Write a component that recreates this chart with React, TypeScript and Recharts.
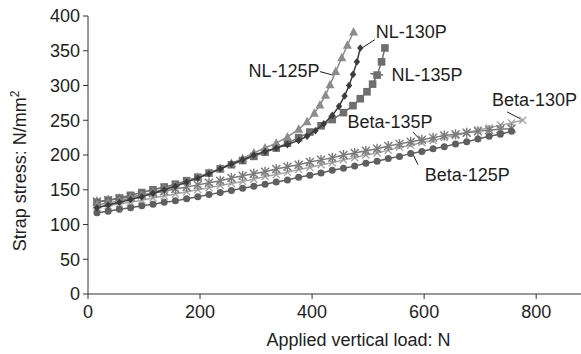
import {
  ReferenceDot,
  ReferenceLine,
  Scatter,
  ScatterChart,
  XAxis,
  YAxis,
  Label,
} from 'recharts';

const FONT = '"Liberation Sans", Arial, sans-serif';
const INK = '#1e1e1e';

// Applied vertical load (N) and strap stress (N/mm2)
const nl125Load = [16, 36, 56, 76, 96, 116, 136, 156, 176, 196, 216, 236, 256, 276, 296, 316, 336, 356, 376, 391, 404, 414, 424, 432, 442, 453, 463, 474];
const nl125Stress = [128, 131, 134, 138, 142, 146, 151, 156, 162, 168, 174, 181, 188, 195, 203, 210, 217, 226, 237, 248, 260, 272, 286, 301, 320, 340, 358, 377];

const nl130Load = [16, 36, 56, 76, 96, 116, 136, 156, 176, 196, 216, 236, 256, 276, 296, 316, 336, 356, 376, 391, 406, 421, 436, 448, 458, 466, 473, 480, 486];
const nl130Stress = [124, 128, 132, 136, 140, 145, 150, 155, 161, 167, 173, 180, 187, 193, 200, 205, 210, 215, 221, 227, 235, 245, 257, 270, 285, 300, 316, 334, 354];

const nl135Load = [16, 36, 56, 76, 96, 116, 136, 156, 176, 196, 216, 236, 256, 276, 296, 316, 336, 356, 376, 396, 416, 436, 456, 473, 486, 498, 508, 516, 524, 530];
const nl135Stress = [132, 135, 138, 142, 146, 150, 154, 158, 163, 168, 174, 180, 186, 192, 198, 204, 210, 217, 225, 233, 242, 251, 261, 271, 281, 291, 302, 315, 334, 354];

const beta125Load = [16, 36, 56, 76, 96, 116, 136, 156, 176, 196, 216, 236, 256, 276, 296, 316, 336, 356, 376, 396, 416, 436, 456, 476, 496, 516, 536, 556, 576, 596, 616, 636, 656, 676, 696, 716, 736, 756];
const beta125Stress = [117, 119, 122, 124, 127, 129, 132, 134, 137, 140, 143, 146, 149, 152, 155, 158, 161, 164, 168, 171, 174, 178, 181, 184, 188, 191, 195, 198, 202, 205, 209, 212, 216, 219, 223, 227, 230, 234];

const beta130Load = [16, 36, 56, 76, 96, 116, 136, 156, 176, 196, 216, 236, 256, 276, 296, 316, 336, 356, 376, 396, 416, 436, 456, 476, 496, 516, 536, 556, 576, 596, 616, 636, 656, 676, 696, 716, 736, 756, 776];
const beta130Stress = [125, 127, 130, 132, 135, 138, 141, 144, 147, 150, 153, 156, 159, 162, 165, 169, 172, 175, 179, 182, 186, 189, 193, 196, 200, 203, 207, 211, 214, 218, 221, 225, 228, 232, 236, 239, 243, 246, 250];

const beta135Load = [16, 36, 56, 76, 96, 116, 136, 156, 176, 196, 216, 236, 256, 276, 296, 316, 336, 356, 376, 396, 416, 436, 456, 476, 496, 516, 536, 556, 576, 596, 616, 636, 656, 676, 696, 716, 736, 756];
const beta135Stress = [133, 135, 137, 140, 142, 145, 148, 151, 154, 157, 160, 163, 167, 170, 173, 176, 180, 183, 186, 190, 193, 196, 200, 203, 206, 209, 213, 216, 219, 222, 225, 228, 230, 232, 234, 236, 237, 238];

const xTicks = [0, 200, 400, 600, 800];
const yTicks = [0, 50, 100, 150, 200, 250, 300, 350, 400];

const toPoints = (load: number[], stress: number[]) =>
  load.map((x, i) => ({ x, y: stress[i] }));

type ShapeProps = { cx?: number; cy?: number };

const triangle = (color: string) => ({ cx = 0, cy = 0 }: ShapeProps) => (
  <polygon points={`${cx},${cy - 5} ${cx + 4.5},${cy + 3.5} ${cx - 4.5},${cy + 3.5}`} fill={color} />
);
const diamond = (color: string) => ({ cx = 0, cy = 0 }: ShapeProps) => (
  <polygon points={`${cx},${cy - 3.8} ${cx + 3.2},${cy} ${cx},${cy + 3.8} ${cx - 3.2},${cy}`} fill={color} />
);
const square = (color: string) => ({ cx = 0, cy = 0 }: ShapeProps) => (
  <rect x={cx - 3.8} y={cy - 3.8} width={7.6} height={7.6} fill={color} />
);
const circle = (color: string) => ({ cx = 0, cy = 0 }: ShapeProps) => (
  <circle cx={cx} cy={cy} r={3.5} fill={color} />
);
const cross = (color: string) => ({ cx = 0, cy = 0 }: ShapeProps) => (
  <path d={`M${cx - 3.5},${cy - 3.5}L${cx + 3.5},${cy + 3.5}M${cx - 3.5},${cy + 3.5}L${cx + 3.5},${cy - 3.5}`} stroke={color} strokeWidth={1.4} />
);
const asterisk = (color: string) => ({ cx = 0, cy = 0 }: ShapeProps) => (
  <path
    d={`M${cx - 4},${cy - 4}L${cx + 4},${cy + 4}M${cx - 4},${cy + 4}L${cx + 4},${cy - 4}M${cx},${cy - 5}L${cx},${cy + 5}`}
    stroke={color}
    strokeWidth={1.4}
  />
);

const SERIES = [
  { name: 'Beta-130P', data: toPoints(beta130Load, beta130Stress), color: '#a6a6a6', shape: cross },
  { name: 'Beta-135P', data: toPoints(beta135Load, beta135Stress), color: '#7a7a7a', shape: asterisk },
  { name: 'Beta-125P', data: toPoints(beta125Load, beta125Stress), color: '#5f5f5f', shape: circle },
  { name: 'NL-135P', data: toPoints(nl135Load, nl135Stress), color: '#6e6e6e', shape: square },
  { name: 'NL-125P', data: toPoints(nl125Load, nl125Stress), color: '#8c8c8c', shape: triangle },
  { name: 'NL-130P', data: toPoints(nl130Load, nl130Stress), color: '#3c3c3c', shape: diamond },
];

// annotation text anchors and leader lines, in data units
const ANNOTATIONS = [
  { text: 'NL-125P', at: [350, 321], from: [414, 320], to: [437, 315] },
  { text: 'NL-130P', at: [577, 377], from: [512, 366], to: [489, 354] },
  { text: 'NL-135P', at: [605, 315], from: [527, 315], to: [504, 317] },
  { text: 'Beta-130P', at: [797, 279], from: [748, 262], to: [777, 250] },
  { text: 'Beta-135P', at: [539, 248], from: [580, 233], to: [593, 222] },
  { text: 'Beta-125P', at: [677, 172], from: [589, 186], to: [579, 203] },
];

const tickStyle = { fill: INK, fontSize: 18, fontFamily: FONT };

export default function App() {
  return (
    <div style={{ position: 'absolute', left: 0, top: 0, background: '#fff', fontFamily: FONT }}>
      <ScatterChart width={581} height={354} margin={{ top: 16, right: 0, left: 30, bottom: 30 }}>
        <XAxis
          type="number"
          dataKey="x"
          domain={[0, 880]}
          ticks={xTicks}
          tick={tickStyle}
          tickSize={5}
          tickMargin={6}
          height={30}
          stroke="#333"
          allowDataOverflow
        >
          <Label
            content={({ viewBox }: any) => (
              <text
                x={viewBox.x + viewBox.width / 2 + 24}
                y={viewBox.y + 52}
                textAnchor="middle"
                fontSize={18}
                fontFamily={FONT}
                fill={INK}
              >
                Applied vertical load: N
              </text>
            )}
          />
        </XAxis>
        <YAxis
          type="number"
          dataKey="y"
          domain={[0, 400]}
          ticks={yTicks}
          tick={tickStyle}
          tickSize={5}
          tickMargin={3}
          width={58}
          stroke="#333"
        >
          <Label
            content={({ viewBox }: any) => {
              const cx = viewBox.x + viewBox.width - 62;
              const cy = viewBox.y + viewBox.height / 2 + 16;
              return (
                <text
                  x={cx}
                  y={cy}
                  transform={`rotate(-90 ${cx} ${cy})`}
                  textAnchor="middle"
                  fontSize={18}
                  fontFamily={FONT}
                  fill={INK}
                >
                  Strap stress: N/mm
                  <tspan dy={-7} fontSize={12}>2</tspan>
                </text>
              );
            }}
          />
        </YAxis>
        {SERIES.map((s) => (
          <Scatter
            key={s.name}
            name={s.name}
            data={s.data}
            line={{ stroke: s.color, strokeWidth: 1.5 }}
            lineJointType="linear"
            shape={s.shape(s.color)}
            isAnimationActive={false}
          />
        ))}
        {ANNOTATIONS.map((a) => (
          <ReferenceLine
            key={`l-${a.text}`}
            segment={[
              { x: a.from[0], y: a.from[1] },
              { x: a.to[0], y: a.to[1] },
            ]}
            stroke={INK}
            strokeWidth={1}
            ifOverflow="visible"
          />
        ))}
        {ANNOTATIONS.map((a) => (
          <ReferenceDot
            key={`t-${a.text}`}
            x={a.at[0]}
            y={a.at[1]}
            r={0}
            fill="none"
            stroke="none"
            ifOverflow="visible"
            label={{ value: a.text, position: 'center', fontSize: 18, fontFamily: FONT, fill: INK }}
          />
        ))}
      </ScatterChart>
    </div>
  );
}
